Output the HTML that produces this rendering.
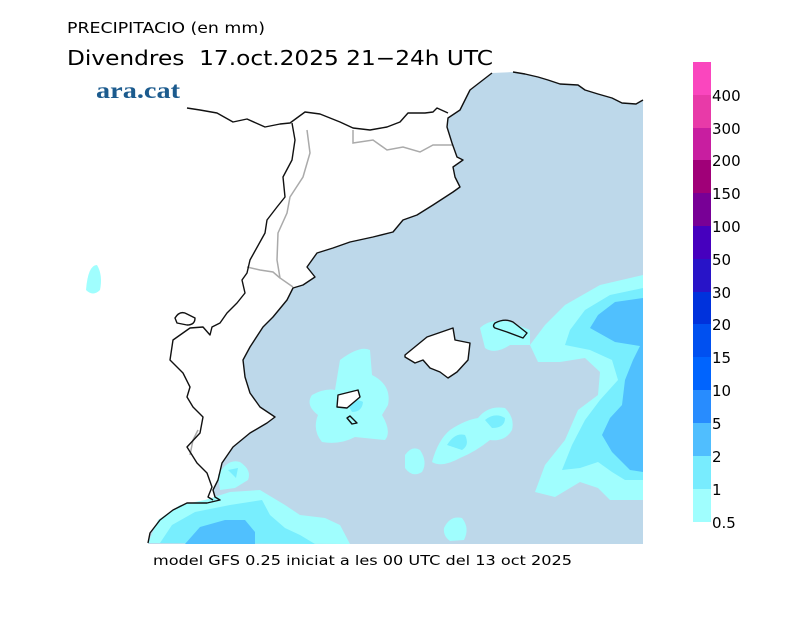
<!DOCTYPE html>
<html><head><meta charset="utf-8"><style>
html,body{margin:0;padding:0;background:#fff;}
svg{display:block;}
text{font-family:"DejaVu Sans","Liberation Sans",sans-serif;fill:#000;white-space:pre;}
</style></head><body>
<svg width="800" height="617" viewBox="0 0 800 617" xmlns="http://www.w3.org/2000/svg">
<rect width="800" height="617" fill="#fff"/>
<!-- sea -->
<path fill="#bdd8ea" d="M492,73 L513,72 L525,74 L538,77 L548,80 L560,84 L578,85 L585,90 L598,94 L612,98 L622,103 L636,104 L643,100 L643,544 L148,544 L150,533 L160,520 L173,510 L187,503 L207,503 L220,500 L215,497 L213,490 L218,480 L222,463 L233,447 L250,433 L267,423 L275,417 L260,407 L250,393 L245,377 L243,360 L250,347 L263,327 L273,317 L287,300 L293,288 L303,285 L315,277 L307,267 L317,253 L333,248 L350,242 L373,237 L393,232 L403,220 L417,215 L433,205 L453,192 L460,187 L455,177 L453,167 L463,160 L457,157 L452,143 L447,127 L448,118 L460,110 L470,90 Z"/>
<!-- precipitation light -->
<g fill="#a0fefe">
<path d="M643,275 L600,285 L565,305 L545,325 L530,345 L538,362 L560,362 L585,358 L600,372 L598,395 L578,410 L565,440 L545,465 L535,492 L555,497 L580,482 L598,488 L610,500 L643,500 Z"/>
<path d="M480,328 Q490,318 510,322 L530,330 L530,345 L510,345 Q495,355 485,348 Z"/>
<path d="M148,543 L158,520 L180,505 L205,500 L230,492 L260,490 L285,505 L300,515 L325,518 L340,525 L350,544 Z"/>
<path d="M218,475 Q228,458 240,462 Q252,470 248,480 L235,488 L220,490 Z"/>
<path d="M340,360 Q360,345 370,350 L372,375 Q392,385 388,405 L382,415 Q392,432 385,440 L355,437 Q340,445 322,442 Q312,430 318,415 Q305,405 312,395 Q325,388 335,390 Z"/>
<path d="M405,455 Q412,445 420,450 Q428,462 422,472 Q412,478 405,468 Z"/>
<path d="M432,462 Q438,440 450,430 Q465,420 478,418 Q488,405 505,408 Q515,418 512,430 Q505,442 490,440 Q475,452 460,458 Q442,468 432,462 Z"/>
<path d="M444,528 Q450,515 462,518 Q470,528 464,540 L450,541 Q443,536 444,528 Z"/>
</g>
<!-- precipitation mid -->
<g fill="#78eefe">
<path d="M643,288 L610,295 L585,310 L570,330 L565,345 L590,350 L612,360 L618,380 L600,400 L585,420 L572,445 L562,470 L580,468 L598,462 L612,472 L625,480 L643,480 Z"/>
<path d="M160,543 L172,525 L195,512 L230,505 L262,500 L270,515 L285,528 L300,535 L315,544 Z"/>
<path d="M447,445 Q455,432 465,435 Q470,445 462,450 Z"/>
<path d="M485,420 Q495,412 505,418 Q505,428 492,428 Z"/>
<path d="M228,470 L238,468 L236,478 Z"/>
<path d="M347,403 Q357,398 363,402 Q362,412 352,412 Z"/>
</g>
<!-- precipitation dark -->
<g fill="#50c0fe">
<path d="M643,298 L615,302 L598,315 L590,328 L615,342 L640,346 L633,360 L625,380 L622,405 L610,418 L602,435 L612,452 L630,470 L643,472 Z"/>
<path d="M185,544 L200,527 L225,520 L245,520 L255,532 L255,544 Z"/>
</g>
<!-- borders gray -->
<g fill="none" stroke="#aaa" stroke-width="1.5">
<path d="M307,130 L310,153 L303,177 L290,197 L287,213 L278,233 L277,260 L280,278 L293,287"/>
<path d="M247,267 L260,270 L273,272 L280,278"/>
<path d="M353,130 L353,143 L373,140 L387,150 L403,147 L420,152 L433,145 L453,145"/>
<path d="M198,430 L193,440 L190,455"/>
</g>
<!-- coast and borders black -->
<g fill="none" stroke="#111" stroke-width="1.4" stroke-linejoin="round">
<path d="M492,73 L470,90 L460,110 L448,118 L447,127 L452,143 L457,157 L463,160 L453,167 L455,177 L460,187 L453,192 L433,205 L417,215 L403,220 L393,232 L373,237 L350,242 L333,248 L317,253 L307,267 L315,277 L303,285 L293,288 L287,300 L273,317 L263,327 L250,347 L243,360 L245,377 L250,393 L260,407 L275,417 L267,423 L250,433 L233,447 L222,463 L218,480 L213,490 L215,497 L220,500 L207,503 L187,503 L173,510 L160,520 L150,533 L148,543"/>
<path d="M643,100 L636,104 L622,103 L612,98 L598,94 L585,90 L578,85 L560,84 L548,80 L538,77 L525,74 L513,72"/>
<path d="M187,108 L200,110 L217,113 L233,122 L247,119 L265,127 L280,124 L290,123 L305,112 L320,114 L330,118 L340,122 L353,128 L370,130 L387,127 L400,122 L408,113 L425,113 L433,112 L437,108 L448,113"/>
<path d="M292,123 L295,140 L292,160 L283,177 L285,197 L277,207 L267,220 L265,233 L250,260 L247,273 L242,280 L245,293 L237,303 L227,313 L220,323 L212,327 L210,335 L203,327 L190,328 L173,340 L170,360 L183,373 L190,387 L187,397 L193,407 L203,417 L200,433 L187,447 L197,463 L207,473 L212,487 L208,497 L213,500"/>
<path d="M175,318 Q180,310 187,314 L195,318 Q195,325 187,325 L177,323 Z"/>
<path d="M405,355 L427,337 L453,328 L455,340 L470,343 L468,360 L457,372 L448,378 L440,372 L430,368 L423,360 L415,363 L405,357 Z" fill="#fff"/>
<path d="M495,323 Q505,318 513,322 L527,333 L523,338 L507,332 L495,328 Q492,326 495,323 Z"/>
<path d="M338,395 L358,390 L360,397 L347,408 L337,407 Z" fill="#fff"/>
<path d="M347,418 L350,416 L357,423 L352,424 Z"/>
</g>
<!-- titles -->
<text x="67" y="33" font-size="15" textLength="198" lengthAdjust="spacingAndGlyphs">PRECIPITACIO (en mm)</text>
<text x="67" y="65" font-size="20" textLength="426" lengthAdjust="spacingAndGlyphs" xml:space="preserve">Divendres  17.oct.2025 21−24h UTC</text>
<text x="96" y="98" font-size="23" font-weight="bold" style="font-family:'Liberation Serif',serif;fill:#1c5b8e" textLength="84" lengthAdjust="spacingAndGlyphs">ara.cat</text>
<text x="153" y="565" font-size="13" textLength="419" lengthAdjust="spacingAndGlyphs">model GFS 0.25 iniciat a les 00 UTC del 13 oct 2025</text>
<!-- colorbar -->
<g>
<rect x="693" y="62" width="18" height="33" fill="#fa46be"/>
<rect x="693" y="95" width="18" height="33" fill="#e83aa8"/>
<rect x="693" y="128" width="18" height="33" fill="#c81ea0"/>
<rect x="693" y="160" width="18" height="33" fill="#a00078"/>
<rect x="693" y="193" width="18" height="33" fill="#780096"/>
<rect x="693" y="226" width="18" height="33" fill="#4600be"/>
<rect x="693" y="259" width="18" height="33" fill="#2814c8"/>
<rect x="693" y="292" width="18" height="33" fill="#0032dc"/>
<rect x="693" y="324" width="18" height="33" fill="#0050f0"/>
<rect x="693" y="357" width="18" height="33" fill="#0064fe"/>
<rect x="693" y="390" width="18" height="33" fill="#288cfe"/>
<rect x="693" y="423" width="18" height="33" fill="#50befe"/>
<rect x="693" y="456" width="18" height="33" fill="#78ecfe"/>
<rect x="693" y="489" width="18" height="33" fill="#a0fefe"/>
</g>
<g font-size="15">
<text x="712" y="101">400</text>
<text x="712" y="134">300</text>
<text x="712" y="166">200</text>
<text x="712" y="199">150</text>
<text x="712" y="232">100</text>
<text x="712" y="265">50</text>
<text x="712" y="298">30</text>
<text x="712" y="330">20</text>
<text x="712" y="363">15</text>
<text x="712" y="396">10</text>
<text x="712" y="429">5</text>
<text x="712" y="462">2</text>
<text x="712" y="495">1</text>
<text x="712" y="528">0.5</text>
</g>
<path d="M86,290 Q88,265 97,265 Q103,275 100,290 Q93,297 86,290 Z" fill="#a0fefe"/>
</svg>
</body></html>
